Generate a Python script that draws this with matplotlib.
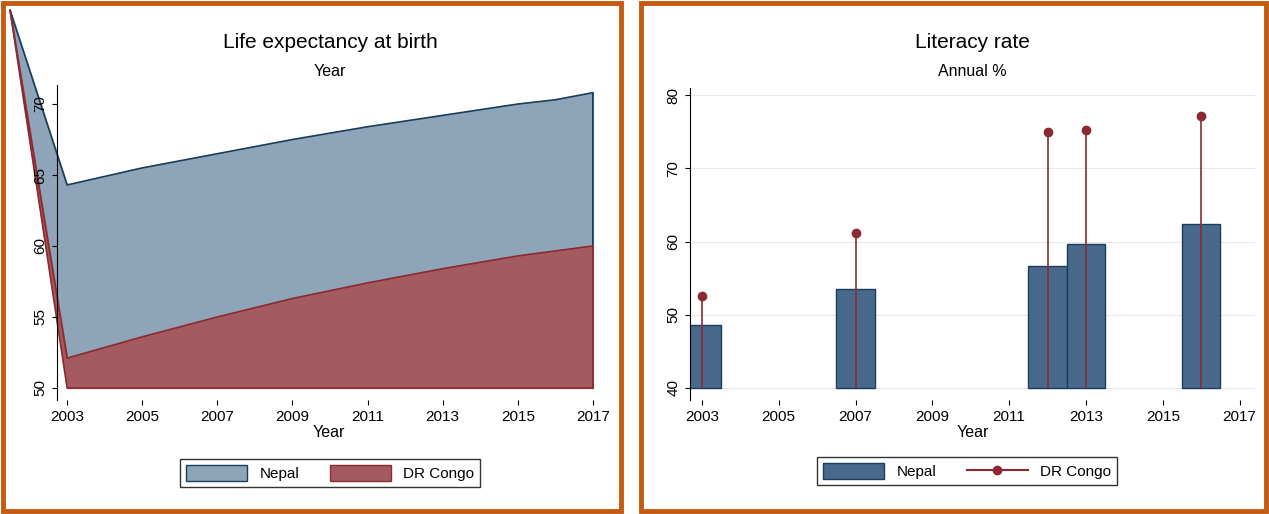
import matplotlib.pyplot as plt
import matplotlib.patches as mpatches
from matplotlib.lines import Line2D

plt.rcParams['font.family'] = ['Liberation Sans', 'DejaVu Sans']

# life expectancy
le_years = [2003, 2005, 2007, 2009, 2011, 2013, 2015, 2016, 2017]
le_nepal = [64.3, 65.5, 66.5, 67.5, 68.4, 69.2, 70.0, 70.3, 70.8]
le_congo = [52.1, 53.6, 55.0, 56.3, 57.4, 58.4, 59.3, 59.65, 60.0]
# stray first point Stata drew outside the plot region
le_start = (2001.48, 76.6)

# literacy
lit_years = [2003, 2007, 2012, 2013, 2016]
lit_nepal = [48.6, 53.5, 56.7, 59.6, 62.4]
lit_congo = [52.5, 61.2, 75.0, 75.2, 77.1]

W, H = 1269, 514
fig = plt.figure(figsize=(W / 100, H / 100), dpi=100)
fig.patch.set_facecolor('white')
orange = '#c55a11'
blue_fill, blue_line = '#8ea4b8', '#1a3d5c'
red_fill, red_line = '#a45b60', '#8b2a30'
bar_c = '#48698c'

for x0, x1 in [(3, 621), (641, 1266)]:
    fig.patches.append(mpatches.Rectangle((x0 / W, 3 / H), (x1 - x0) / W, (H - 6) / H,
                                          transform=fig.transFigure, fill=False,
                                          edgecolor=orange, linewidth=3.5))

def ax_at(l, t, r, b):
    return fig.add_axes([l / W, 1 - b / H, (r - l) / W, (b - t) / H])

def style(ax, below=True):
    for s in ['top', 'right', 'bottom']:
        ax.spines[s].set_visible(False)
    ax.spines['left'].set_linewidth(0.8)
    ax.grid(axis='y', color='#e8e8e8', linewidth=0.8)
    ax.set_axisbelow(below)
    ax.tick_params(axis='y', labelrotation=90, labelsize=11)
    ax.tick_params(axis='x', labelsize=11)
    for lab in ax.get_yticklabels():
        lab.set_va('center')
    ax.set_xticks(range(2003, 2018, 2))
    ax.set_xlabel('Year', fontsize=11.5, labelpad=1)

# left panel
ax1 = ax_at(57, 85, 600, 400)
ax1.set_xlim(2002.73, 2017.19)
ax1.set_ylim(49.15, 71.34)
ax1.set_yticks([50, 55, 60, 65, 70])
xs = [le_start[0]] + le_years
ax1.fill_between(xs, [le_start[1]] + le_congo, [le_start[1]] + le_nepal,
                 color=blue_fill, clip_on=False, zorder=0.5)
ax1.plot(xs + [2017], [le_start[1]] + le_nepal + [le_congo[-1]], color=blue_line, lw=1.2, clip_on=False, zorder=0.7)
ax1.fill_between(xs, [le_start[1]] + [50] * len(le_years), [le_start[1]] + le_congo,
                 color=red_fill, clip_on=False, zorder=0.5)
ax1.plot(xs + [2017], [le_start[1]] + le_congo + [50], color=red_line, lw=1.2, clip_on=False, zorder=0.7)
ax1.plot([le_start[0], 2003, 2017], [le_start[1], 50, 50], color=red_line, lw=1.2, clip_on=False, zorder=0.7)
style(ax1, below=False)
ax1.grid(False)
fig.text(330 / W, 1 - 43 / H, 'Life expectancy at birth', ha='center', va='center', fontsize=15)
fig.text(330 / W, 1 - 71 / H, 'Year', ha='center', va='center', fontsize=11.5)
h1 = [mpatches.Patch(facecolor=blue_fill, edgecolor=blue_line, label='Nepal'),
      mpatches.Patch(facecolor=red_fill, edgecolor=red_line, label='DR Congo')]
fig.legend(handles=h1, loc='center', bbox_to_anchor=(330 / W, 1 - 473 / H), ncol=2,
           fancybox=False, edgecolor='black', fontsize=11, handlelength=4, handleheight=1.2,
           columnspacing=2)

# right panel
ax2 = ax_at(690, 88, 1255, 400)
ax2.set_xlim(2002.69, 2017.4)
ax2.set_ylim(38.36, 80.96)
ax2.set_yticks([40, 50, 60, 70, 80])
ax2.bar(lit_years, [v - 40 for v in lit_nepal], bottom=40, width=1, color=bar_c,
        edgecolor=blue_line, linewidth=1, zorder=2)
ax2.vlines(lit_years, 40, lit_congo, color=red_line, lw=1.2, zorder=3)
ax2.plot(lit_years, lit_congo, 'o', color=red_line, ms=6, zorder=4)
style(ax2)
fig.text(972 / W, 1 - 43 / H, 'Literacy rate', ha='center', va='center', fontsize=15)
fig.text(972 / W, 1 - 71 / H, 'Annual %', ha='center', va='center', fontsize=11.5)
h2 = [mpatches.Patch(facecolor=bar_c, edgecolor=blue_line, label='Nepal'),
      Line2D([], [], color=red_line, marker='o', ms=6, label='DR Congo')]
fig.legend(handles=h2, loc='center', bbox_to_anchor=(967 / W, 1 - 471 / H), ncol=2,
           fancybox=False, edgecolor='black', fontsize=11, handlelength=4, handleheight=1.2,
           columnspacing=2)

fig.savefig('out.png', dpi=100)
